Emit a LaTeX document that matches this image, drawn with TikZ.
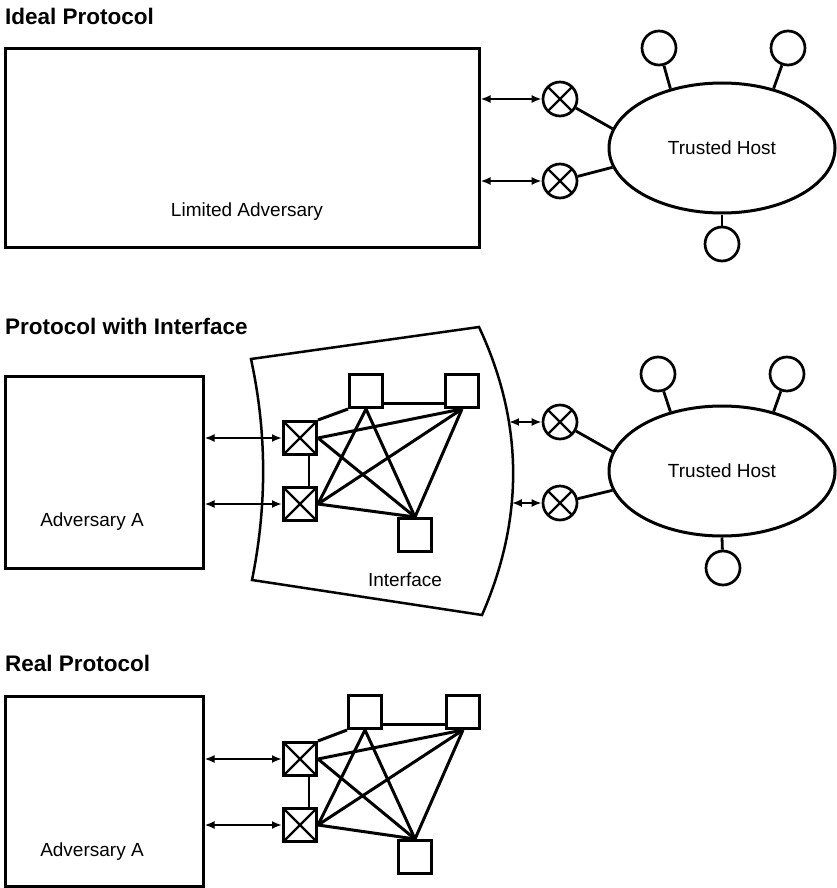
\documentclass[tikz,border=0pt]{standalone}
\usepackage{fontspec}
\setmainfont{Liberation Sans}
\usepackage{tikz}
\usetikzlibrary{arrows.meta,shapes.geometric,positioning}
\tikzstyle{link} = [line width=2.8pt]
\tikzstyle{meshlink} = [line width=3pt]
\tikzstyle{duplex} = [link, {Latex[length=10pt,width=8pt]}-{Latex[length=10pt,width=8pt]}]
\tikzstyle{advbox} = [shape = rectangle, draw, line width=3pt, inner sep=0pt]
\tikzstyle{sq} = [shape = rectangle, draw, line width=3pt, minimum size=33pt, inner sep=0pt]
\tikzstyle{xsq} = [sq, path picture={\draw[line width=2.4pt] (path picture bounding box.north west) -- (path picture bounding box.south east) (path picture bounding box.north east) -- (path picture bounding box.south west);}]
\tikzstyle{party} = [shape = circle, draw, line width=2.7pt, minimum size=34pt, inner sep=0pt]
\tikzstyle{xcirc} = [party, path picture={\draw[line width=2.4pt] (path picture bounding box.north west) -- (path picture bounding box.south east) (path picture bounding box.north east) -- (path picture bounding box.south west);}]
\tikzstyle{host} = [shape = ellipse, draw, line width=3pt, minimum width=226pt, minimum height=130pt, inner sep=0pt, font=\fontsize{19}{22}\selectfont]
\tikzstyle{heading} = [anchor=west, inner sep=0pt, font=\fontsize{22.5}{26}\selectfont\bfseries]
\tikzstyle{lbl} = [inner sep=0pt, font=\fontsize{19}{22}\selectfont]

\begin{document}
\begin{tikzpicture}[x=1pt, y=-1pt]
			\useasboundingbox (0,0) rectangle (836,888);

			% ideal protocol
			\node (ttl1) at (5,16) [heading] {Ideal Protocol};
			\node (ladv) at (242,148) [advbox, minimum width=474pt, minimum height=198pt] {};
			\node (ladvtxt) at (247,212) [lbl] {Limited Adversary};
			\node (th1) at (722,148) [host] {Trusted Host};
			\node (cc1) at (560,99) [xcirc] {};
			\node (cc2) at (560,181) [xcirc] {};
			\node (p11) at (659,48) [party] {};
			\node (p12) at (788,48) [party] {};
			\node (p13) at (722,244) [party] {};
			\draw[duplex] (ladv.east |- cc1) -- (cc1);
			\draw[duplex] (ladv.east |- cc2) -- (cc2);
			\draw[link] (cc1) -- (th1.170);
			\draw[link] (cc2) -- (th1.190);
			\draw[link] (p11) -- (th1.131);
			\draw[link] (p12) -- (th1.49);
			\draw[link] (p13) -- (th1.south);

			% protocol with interface
			\node (ttl2) at (5,326) [heading] {Protocol with Interface};
			\node (advA) at (104,472) [advbox, minimum width=198pt, minimum height=192pt] {};
			\node (advAtxt) at (92,522) [lbl] {Adversary A};
			\draw[line width=2.5pt] (251,359) -- (479,327)
				.. controls (524,423) and (524,519) .. (482,615)
				coordinate[pos=0.33] (ifcA) coordinate[pos=0.61] (ifcB)
				-- (252,580) .. controls (267,506) and (267,433) .. cycle;
			\node (ifctxt) at (405,580) [lbl] {Interface};
			\node (cs1) at (300,438) [xsq] {};
			\node (cs2) [xsq, below = 30pt of cs1] {};
			\node (tsq1) at (366,391) [sq] {};
			\node (tsq2) at (462,391) [sq] {};
			\node (bsq) at (415,535) [sq] {};
			\draw[duplex] (advA.east |- cs1) -- (cs1);
			\draw[duplex] (advA.east |- cs2) -- (cs2);
			\draw[link] ([xshift=9pt]cs1.south) -- ([xshift=9pt]cs2.north);
			\draw[meshlink] (cs1.north east) -- (tsq1.south west);
			\draw[meshlink] (cs1.east) -- (tsq2.south);
			\draw[meshlink] (cs1.east) -- (bsq.north);
			\draw[meshlink] (cs2.east) -- (tsq1.south);
			\draw[meshlink] (cs2.east) -- (tsq2.south);
			\draw[meshlink] (cs2.east) -- (bsq.north);
			\draw[meshlink] (tsq1.-34) -- (tsq2.214);
			\draw[meshlink] (tsq1.south) -- (bsq.north);
			\draw[meshlink] (tsq2.south) -- (bsq.north);
			\node (th2) at (722,471) [host] {Trusted Host};
			\node (cc3) at (560,422) [xcirc] {};
			\node (cc4) at (560,503) [xcirc] {};
			\node (p21) at (658,374) [party] {};
			\node (p22) at (787,374) [party] {};
			\node (p23) at (723,568) [party] {};
			\draw[duplex] (ifcA |- cc3) -- (cc3);
			\draw[duplex] (ifcB |- cc4) -- (cc4);
			\draw[link] (cc3) -- (th2.170);
			\draw[link] (cc4) -- (th2.190);
			\draw[link] (p21) -- (th2.131);
			\draw[link] (p22) -- (th2.49);
			\draw[link] (p23) -- (th2.south);

			% real protocol
			\node (ttl3) at (5,663) [heading] {Real Protocol};
			\node (advB) at (104,791) [advbox, minimum width=198pt, minimum height=190pt] {};
			\node (advBtxt) at (92,852) [lbl] {Adversary A};
			\node (rs1) at (300,759) [xsq] {};
			\node (rs2) [xsq, below = 30pt of rs1] {};
			\node (rtsq1) at (365,712) [sq] {};
			\node (rtsq2) at (463,712) [sq] {};
			\node (rbsq) at (415,857) [sq] {};
			\draw[duplex] (advB.east |- rs1) -- (rs1);
			\draw[duplex] (advB.east |- rs2) -- (rs2);
			\draw[link] ([xshift=9pt]rs1.south) -- ([xshift=9pt]rs2.north);
			\draw[meshlink] (rs1.north east) -- (rtsq1.south west);
			\draw[meshlink] (rs1.east) -- (rtsq2.south);
			\draw[meshlink] (rs1.east) -- (rbsq.north);
			\draw[meshlink] (rs2.east) -- (rtsq1.south);
			\draw[meshlink] (rs2.east) -- (rtsq2.south);
			\draw[meshlink] (rs2.east) -- (rbsq.north);
			\draw[meshlink] (rtsq1.-34) -- (rtsq2.214);
			\draw[meshlink] (rtsq1.south) -- (rbsq.north);
			\draw[meshlink] (rtsq2.south) -- (rbsq.north);
\end{tikzpicture}
\end{document}
